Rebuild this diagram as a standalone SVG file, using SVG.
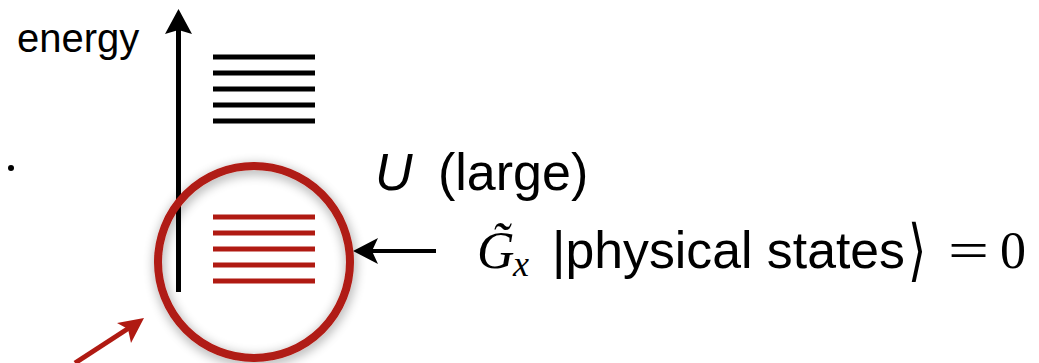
<svg xmlns="http://www.w3.org/2000/svg" width="1039" height="363" viewBox="0 0 1039 363">
<style>
.sans{font-family:"Liberation Sans",Arial,sans-serif;fill:#000}
.serif{font-family:"Liberation Serif","Times New Roman",serif;fill:#000}
.lvlK{stroke:#000;stroke-width:5}
.lvlR{stroke:#b01a12;stroke-width:5}
.ax{stroke:#000;stroke-width:5;fill:none}
</style>
<defs>
<filter id="sh" x="-30%" y="-30%" width="160%" height="160%">
<feGaussianBlur in="SourceAlpha" stdDeviation="6"/>
<feOffset dx="1" dy="3" result="b"/>
<feComponentTransfer><feFuncA type="linear" slope="0.4"/></feComponentTransfer>
<feMerge><feMergeNode/><feMergeNode in="SourceGraphic"/></feMerge>
</filter>
</defs>
<rect width="1039" height="363" fill="#fff"/>
<g id="connectors">
<line class="ax" x1="178.5" y1="30" x2="178.5" y2="292"/>
<path d="M178.5,9 L192,34 L178.5,30 L165,34 Z" fill="#000"/>
<line x1="436" y1="251" x2="372" y2="251" stroke="#000" stroke-width="4"/>
<path d="M353,251 L378,238 L372,251 L378,264 Z" fill="#000"/>
<line x1="75" y1="363" x2="132" y2="326" stroke="#b01a12" stroke-width="5"/>
<path d="M144,318 L117,323 L128,329 L131,343 Z" fill="#b01a12"/>
</g>
<g id="dot"><circle cx="11" cy="168" r="3" fill="#000"/></g>
<g id="energy-label"><text class="sans" x="17" y="52" font-size="40">energy</text></g>
<g id="upper-levels">
<line class="lvlK" x1="213" y1="57" x2="315" y2="57"/>
<line class="lvlK" x1="213" y1="73" x2="315" y2="73"/>
<line class="lvlK" x1="213" y1="89" x2="315" y2="89"/>
<line class="lvlK" x1="213" y1="105" x2="315" y2="105"/>
<line class="lvlK" x1="213" y1="121" x2="315" y2="121"/>
</g>
<g id="physical-circle">
<circle cx="254" cy="262" r="96" fill="none" stroke="#b01a12" stroke-width="8" filter="url(#sh)"/>
<line class="lvlR" x1="213" y1="217" x2="315" y2="217"/>
<line class="lvlR" x1="213" y1="233" x2="315" y2="233"/>
<line class="lvlR" x1="213" y1="249" x2="315" y2="249"/>
<line class="lvlR" x1="213" y1="265" x2="315" y2="265"/>
<line class="lvlR" x1="213" y1="281" x2="315" y2="281"/>
</g>
<g id="u-label">
<text class="sans" x="375" y="190" font-size="52" font-style="italic">U</text>
<text class="sans" x="438" y="190" font-size="52">(large)</text>
</g>
<g id="constraint-label">
<text class="serif" x="477" y="268" font-size="52" font-style="italic">G̃</text>
<text class="serif" x="513" y="276" font-size="36" font-style="italic">x</text>
<text class="sans" x="552" y="268" font-size="52" textLength="353" lengthAdjust="spacingAndGlyphs">|physical states</text>
<text font-family="DejaVu Sans, sans-serif" font-size="52" transform="translate(908,268) scale(0.9,1.3)" y="4">⟩</text>
<text class="serif" font-size="52" transform="translate(948,268) scale(1.4,1)">=</text>
<text class="serif" x="1000" y="268" font-size="52">0</text>
</g>
</svg>
